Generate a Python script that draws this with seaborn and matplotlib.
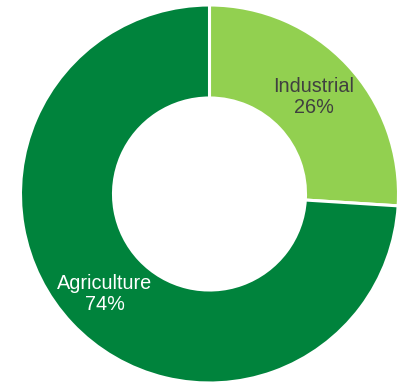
import matplotlib
matplotlib.use("Agg")
import matplotlib.pyplot as plt
import seaborn as sns

categories = ["Industrial", "Agriculture"]
shares = [26, 74]
colors = ["#92D050", "#00833C"]
text_colors = ["#404040", "#FFFFFF"]

sns.set_theme(style="white")
plt.rcParams["font.family"] = ["Liberation Sans", "DejaVu Sans"]

W, H = 400, 382
fig = plt.figure(figsize=(W / 100, H / 100), dpi=100)
ax = fig.add_axes([0, 0, 1, 1])

R = 189.0
cx, cy = 209.5, 194.0
wedges, _ = ax.pie(shares, colors=colors, startangle=90, counterclock=False,
                   radius=1.0, wedgeprops=dict(width=0.492, edgecolor="white", linewidth=2.2))

ax.set_aspect("auto")
ax.set_xlim(-cx / R, (W - cx) / R)
ax.set_ylim(-(H - cy) / R, cy / R)

label_pos = [(314, 97), (105, 294)]
for cat, val, tc, (px, py) in zip(categories, shares, text_colors, label_pos):
    ax.text((px - cx) / R, (cy - py) / R, f"{cat}\n{val}%", ha="center", va="center",
            fontsize=14.3, color=tc, linespacing=1.15)

ax.axis("off")
fig.savefig("out.png", dpi=100)
